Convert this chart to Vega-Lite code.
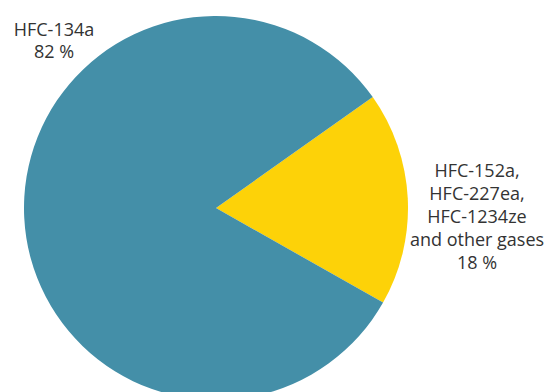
{
  "$schema": "https://vega.github.io/schema/vega-lite/v6.json",
  "width": 432,
  "height": 416,
  "padding": 0,
  "background": "white",
  "config": {"view": {"stroke": null}},
  "data": {"values": [
    {"gas": "HFC-152a,\nHFC-227ea,\nHFC-1234ze\nand other gases", "short": "other", "share": 18, "rank": 1},
    {"gas": "HFC-134a", "short": "134a", "share": 82, "rank": 2}
  ]},
  "layer": [
    {
      "mark": {"type": "arc", "outerRadius": 192},
      "encoding": {
        "theta": {"field": "share", "type": "quantitative", "stack": true, "scale": {"range": [0.955, 7.2382]}},
        "order": {"field": "rank", "type": "quantitative"},
        "color": {"field": "short", "type": "nominal", "scale": {"domain": ["other", "134a"], "range": ["#FDD208", "#448FA8"]}, "legend": null}
      }
    },
    {
      "mark": {"type": "text", "font": "Open Sans", "fontSize": 18, "color": "#333333", "lineHeight": 22, "align": "center", "baseline": "middle", "radius": 0, "dx": -162, "dy": -177},
      "transform": [{"filter": "datum.short == '134a'"}],
      "encoding": {
        "text": {"value": ["HFC-134a", "82 %"]}
      }
    },
    {
      "mark": {"type": "text", "font": "Open Sans", "fontSize": 18, "color": "#333333", "lineHeight": 23, "align": "center", "baseline": "middle", "radius": 0, "dx": 261, "dy": -36},
      "transform": [{"filter": "datum.short == 'other'"}],
      "encoding": {
        "text": {"value": ["HFC-152a,", "HFC-227ea,", "HFC-1234ze", "and other gases", "18 %"]}
      }
    }
  ]
}
